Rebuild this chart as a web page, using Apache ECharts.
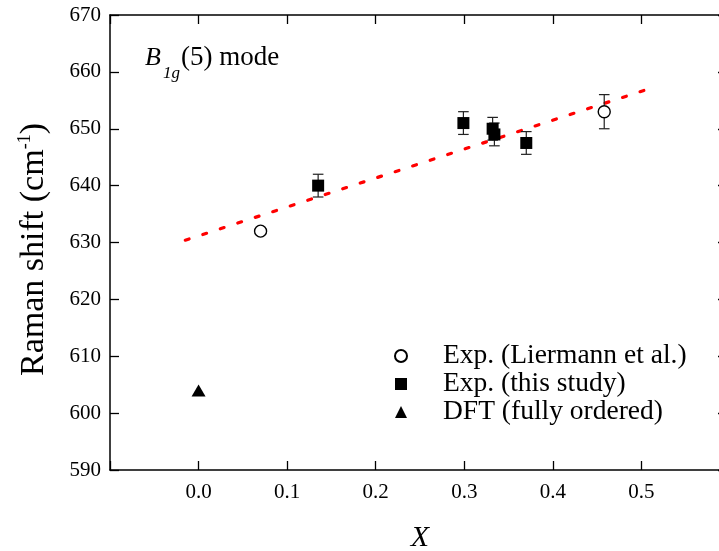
<!DOCTYPE html>
<html><head><meta charset="utf-8">
<script src="https://cdn.jsdelivr.net/npm/echarts@6/dist/echarts.min.js"></script>
<style>html,body{margin:0;padding:0;background:#fff}#c{width:719px;height:551px}</style>
</head><body><div id="c"></div>
<script>
// ---- data ----
const xTickValues = [0.0, 0.1, 0.2, 0.3, 0.4, 0.5];
const yTickValues = [590, 600, 610, 620, 630, 640, 650, 660, 670];
const liermannX = [0.07, 0.458];
const liermannY = [632, 653];
const liermannErr = [0, 3];
const studyX = [0.135, 0.299, 0.332, 0.334, 0.370];
const studyY = [640, 651, 650, 649, 647.5];
const studyErr = [2, 2, 2, 2, 2];
const dftX = [0.0];
const dftY = [604];
const fitX = [-0.015, 0.506];
const fitY = [630.4, 656.9];
const seriesNames = ['Exp. (Liermann et al.)', 'Exp. (this study)', 'DFT (fully ordered)'];

const FONT = "'Liberation Serif','Times New Roman',serif";
const pairs = (xs, ys) => xs.map((x, i) => [x, ys[i]]);
const errData = [];
liermannX.forEach((x, i) => { if (liermannErr[i] > 0) errData.push([x, liermannY[i] - liermannErr[i], liermannY[i] + liermannErr[i]]); });
studyX.forEach((x, i) => { if (studyErr[i] > 0) errData.push([x, studyY[i] - studyErr[i], studyY[i] + studyErr[i]]); });

const chart = echarts.init(document.getElementById('c'), null, {renderer: 'canvas'});
const axisLine = {show: true, onZero: false, lineStyle: {color: '#000', width: 1.5}};
const tickStyle = {show: true, inside: true, length: 9, lineStyle: {color: '#000', width: 1.3}};
const rightTickStyle = {show: true, inside: true, length: 12, lineStyle: {color: '#000', width: 1.3}};

chart.setOption({
  animation: false,
  backgroundColor: '#fff',
  grid: {left: 110, top: 15, width: 620, height: 455, containLabel: false, outerBoundsMode: 'none'},
  xAxis: [{
    type: 'value', min: -0.1, max: 0.6, interval: 0.1, position: 'bottom',
    axisLine, axisTick: tickStyle, splitLine: {show: false},
    axisLabel: {
      margin: 12, fontSize: 21, fontFamily: FONT, color: '#000',
      formatter: v => (xTickValues.some(t => Math.abs(t - v) < 1e-9) ? v.toFixed(1) : '')
    },
    name: 'X', nameLocation: 'middle', nameGap: 53,
    nameTextStyle: {fontSize: 30, fontStyle: 'italic', fontFamily: FONT, color: '#000'}
  }, {
    type: 'value', min: -0.1, max: 0.6, interval: 0.1, position: 'top',
    axisLine, axisTick: tickStyle, axisLabel: {show: false}, splitLine: {show: false}
  }],
  yAxis: [{
    type: 'value', min: 590, max: 670, interval: 10, position: 'left',
    axisLine, axisTick: tickStyle, splitLine: {show: false},
    axisLabel: {
      margin: 9, fontSize: 21, fontFamily: FONT, color: '#000',
      formatter: v => (yTickValues.includes(v) ? String(v) : '')
    },
    name: 'Raman shift (cm{sup|-1})', nameLocation: 'middle', nameGap: 58,
    nameTextStyle: {
      fontSize: 34, fontFamily: FONT, color: '#000', lineHeight: 36, padding: [0, 14, 0, 0],
      rich: {sup: {fontSize: 18, fontFamily: FONT, color: '#000', verticalAlign: 'top', lineHeight: 18}}
    }
  }, {
    type: 'value', min: 590, max: 670, interval: 10, position: 'right',
    axisLine, axisTick: rightTickStyle, axisLabel: {show: false}, splitLine: {show: false}
  }],
  legend: {
    orient: 'vertical', left: 389, top: 337, itemGap: 0,
    itemWidth: 12, itemHeight: 12,
    data: seriesNames,
    formatter: '{g|}{name|{name}}',
    textStyle: {
      fontSize: 27.5, fontFamily: FONT, color: '#000', lineHeight: 22,
      rich: {g: {width: 31}, name: {fontSize: 27.5, fontFamily: FONT, color: '#000', lineHeight: 22}}
    }
  },
  graphic: [
    {type: 'text', x: 145, y: 58, style: {text: 'B', font: 'italic 26px ' + FONT, fill: '#000', verticalAlign: 'middle', align: 'left'}},
    {type: 'text', x: 163, y: 74, style: {text: '1g', font: 'italic 17px ' + FONT, fill: '#000', verticalAlign: 'middle', align: 'left'}},
    {type: 'text', x: 181, y: 58, style: {text: '(5) mode', font: '27px ' + FONT, fill: '#000', verticalAlign: 'middle', align: 'left'}}
  ],
  series: [
    {
      name: 'fit', type: 'line', data: pairs(fitX, fitY), symbol: 'none', z: 1,
      lineStyle: {color: '#ff0000', width: 3.2, type: [4, 14.4], cap: 'round'}
    },
    {
      name: 'err', type: 'custom', data: errData, z: 2,
      encode: {x: 0, y: [1, 2]},
      renderItem: (params, api) => {
        const x = api.value(0);
        const p1 = api.coord([x, api.value(1)]);
        const p2 = api.coord([x, api.value(2)]);
        const w = 5.3;
        const st = {stroke: '#222', lineWidth: 1.2};
        return {type: 'group', children: [
          {type: 'line', shape: {x1: p1[0], y1: p1[1], x2: p2[0], y2: p2[1]}, style: st},
          {type: 'line', shape: {x1: p1[0] - w, y1: p1[1], x2: p1[0] + w, y2: p1[1]}, style: st},
          {type: 'line', shape: {x1: p2[0] - w, y1: p2[1], x2: p2[0] + w, y2: p2[1]}, style: st}
        ]};
      }
    },
    {
      name: seriesNames[0], type: 'scatter', data: pairs(liermannX, liermannY), z: 3,
      symbol: 'circle', symbolSize: 12,
      itemStyle: {color: '#fff', borderColor: '#000', borderWidth: 1.4, opacity: 1}
    },
    {
      name: seriesNames[1], type: 'scatter', data: pairs(studyX, studyY), z: 3,
      symbol: 'rect', symbolSize: 12,
      itemStyle: {color: '#000', opacity: 1}
    },
    {
      name: seriesNames[2], type: 'scatter', data: pairs(dftX, dftY), z: 3,
      symbol: 'triangle', symbolSize: [14, 12],
      itemStyle: {color: '#000', opacity: 1}
    }
  ]
});
</script>
</body></html>
